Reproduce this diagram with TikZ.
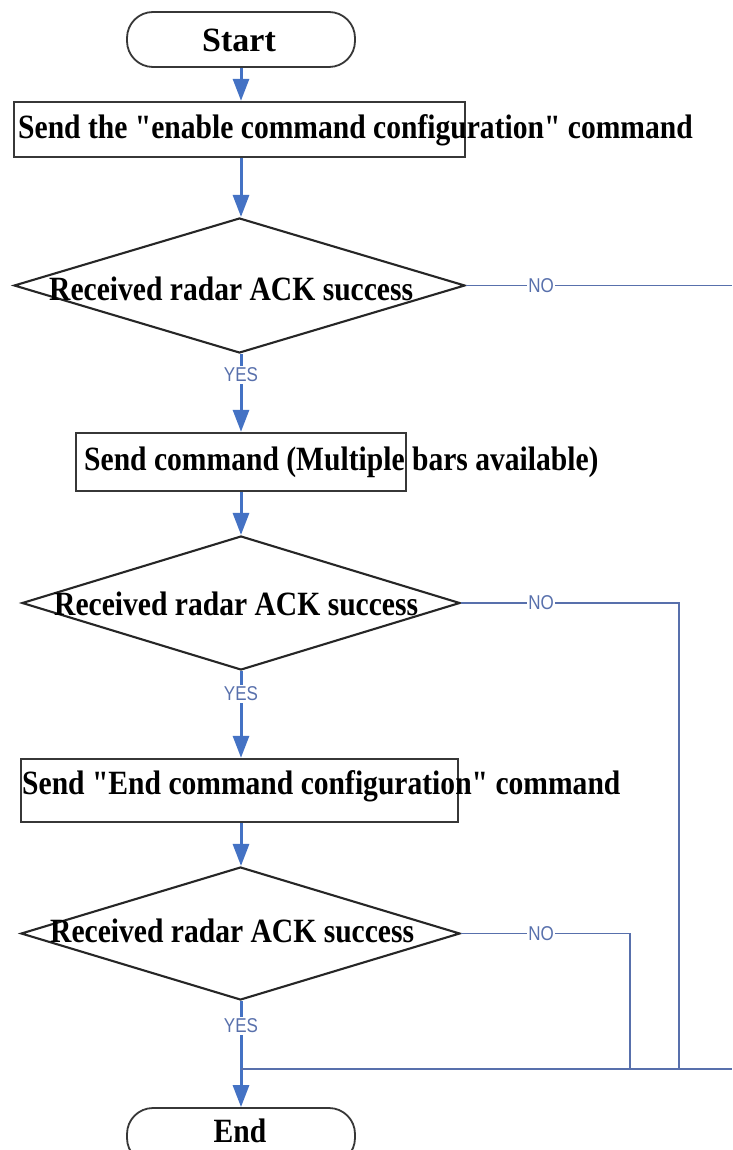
\documentclass[tikz,border=0pt]{standalone}
\usepackage{fontspec}
\usetikzlibrary{shapes.geometric,arrows.meta}
\newfontfamily\bodyfont[FakeStretch=0.87]{Liberation Serif}
\newfontfamily\termfont{Liberation Serif}
\newfontfamily\ynfont[FakeStretch=0.85]{Liberation Sans}
\definecolor{mainblue}{RGB}{68,114,196}
\definecolor{noblue}{RGB}{88,112,172}
\definecolor{boxgray}{RGB}{55,55,55}
\tikzset{
  term/.style={draw=boxgray, line width=1.8pt, rounded corners=26pt, minimum width=228pt, minimum height=55pt, inner sep=0pt},
  procbox/.style={draw=boxgray, line width=2.4pt, inner sep=0pt},
  decision/.style={diamond, draw=black!85, line width=2.1pt, inner sep=0pt},
  txt/.style={font=\bodyfont\bfseries\fontsize{34}{38}\selectfont, inner sep=0pt, anchor=west, text=black},
  ttxt/.style={font=\termfont\bfseries\fontsize{34}{38}\selectfont, inner sep=0pt, text=black},
  yn/.style={font=\ynfont\fontsize{20}{22}\selectfont, text=noblue, fill=white, inner sep=1.5pt},
  flow/.style={draw=mainblue, line width=3pt, -{Triangle[length=22pt,width=16pt]}},
  noline/.style={draw=noblue, line width=1.8pt},
}
\begin{document}
\begin{tikzpicture}[x=1pt,y=-1pt]
\useasboundingbox (0,0) rectangle (732,1150);
\fill[white] (0,0) rectangle (732,1150);

% nodes
\node[term] (start) at (241,39.5) {};
\node[ttxt] (startT) at (239,40) {Start};

\node[procbox, minimum width=451pt, minimum height=55pt] (b1) at (239.5,129.5) {};
\node[txt] (b1T) at (18,130) {Send the "enable command configuration" command};

\node[decision, minimum width=451pt, minimum height=135pt] (d1) at (239.5,285.5) {};
\node[txt] (d1T) at (49,289) {Received radar ACK success};

\node[procbox, minimum width=330pt, minimum height=58pt] (b2) at (241,462) {};
\node[txt] (b2T) at (84,462) {Send command (Multiple bars available)};

\node[decision, minimum width=438pt, minimum height=134pt] (d2) at (241,603) {};
\node[txt] (d2T) at (54,604) {Received radar ACK success};

\node[procbox, minimum width=437pt, minimum height=63pt] (b3) at (239.5,790.5) {};
\node[txt] (b3T) at (22,786) {Send "End command configuration" command};

\node[decision, minimum width=439pt, minimum height=133pt] (d3) at (240.5,933.5) {};
\node[txt] (d3T) at (50,931) {Received radar ACK success};

\node[term, minimum height=56pt] (end) at (241,1136) {};
\node[txt, anchor=center] (endT) at (240,1131) {End};

% coordinates
\coordinate (no1end) at (732,285.5);
\coordinate (c2) at (679,603);
\coordinate (c3) at (630,933.5);
\coordinate (j) at (241,1069);
\coordinate (j2) at (679,1069);
\coordinate (j3) at (630,1069);
\coordinate (jr) at (732,1069);

% main flow
\draw[flow] (start.south -| 241,0) -- (b1.north -| 241,0);
\draw[flow] (b1.south -| 241,0) -- (d1.north -| 241,0);
\draw[flow] (d1.south -| 241,0) -- (b2.north -| 241,0);
\draw[flow] (b2.south -| 241,0) -- (d2.north -| 241,0);
\draw[flow] (d2.south -| 241,0) -- (b3.north -| 241,0);
\draw[flow] (b3.south -| 241,0) -- (d3.north -| 241,0);
\draw[flow] (d3.south -| 241,0) -- (end.north -| 241,0);

% NO branches
\draw[noline] (d1.east) -- (no1end);
\draw[noline] (d2.east) -- (c2) -- (j2);
\draw[noline] (d3.east) -- (c3) -- (j3);
\draw[noline] (j) -- (jr);

% labels
\node[yn] (no1) at (541,285.5) {NO};
\node[yn] (no2) at (541,603) {NO};
\node[yn] (no3) at (541,933.5) {NO};
\node[yn] (yes1) at (241,375) {YES};
\node[yn] (yes2) at (241,694) {YES};
\node[yn] (yes3) at (241,1026) {YES};
\end{tikzpicture}
\end{document}
